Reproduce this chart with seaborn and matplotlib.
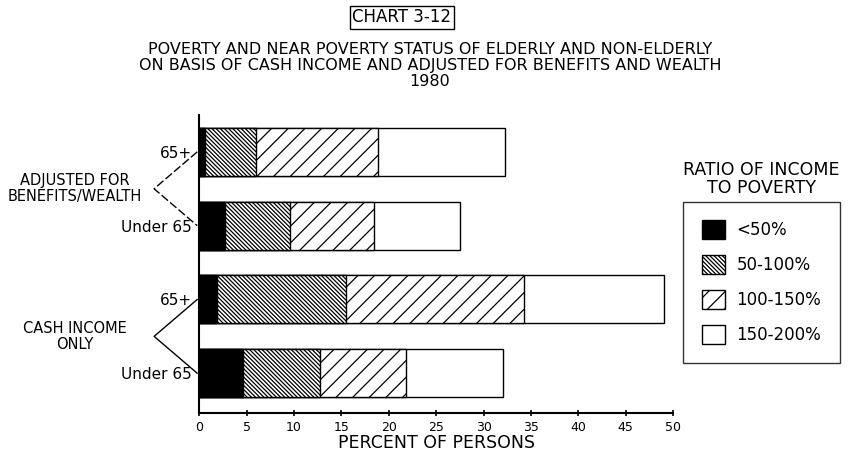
"""Chart 3-12: poverty and near poverty status of elderly and non-elderly, 1980."""

import matplotlib
matplotlib.use('Agg')
import matplotlib.pyplot as plt
import matplotlib.transforms as mtransforms
from matplotlib.lines import Line2D
from matplotlib.patches import Patch
import numpy as np
import pandas as pd
import seaborn as sns

# data (percent of persons)
groups = ['ADJUSTED FOR\nBENEFITS/WEALTH', 'ADJUSTED FOR\nBENEFITS/WEALTH',
          'CASH INCOME\nONLY', 'CASH INCOME\nONLY']
ages = ['65+', 'Under 65', '65+', 'Under 65']
below_50 = [0.6, 2.7, 1.9, 4.6]
pct_50_100 = [5.4, 6.9, 13.6, 8.1]
pct_100_150 = [12.9, 8.8, 18.8, 9.1]
pct_150_200 = [13.4, 9.1, 14.7, 10.3]
series_labels = ['<50%', '50-100%', '100-150%', '150-200%']
x_ticks = list(range(0, 55, 5))

sns.set_style('ticks')
plt.rcParams['font.family'] = ['DejaVu Sans']
plt.rcParams['hatch.linewidth'] = 0.9
for key in ['text.color', 'axes.labelcolor', 'xtick.color', 'ytick.color']:
    plt.rcParams[key] = 'black'

df = pd.DataFrame({
    'bar': [f'{g}|{a}' for g, a in zip(groups, ages)],
    '<50%': below_50,
    '50-100%': pct_50_100,
    '100-150%': pct_100_150,
    '150-200%': pct_150_200,
})
cum = df[series_labels].cumsum(axis=1)

fig = plt.figure(figsize=(8.51, 4.58), dpi=100)
ax = fig.add_axes([0.234, 0.098, 0.557, 0.651])

# stacked bars: draw the longest cumulative first, then overlay shorter ones
styles = {
    '150-200%': dict(color='white', hatch=None),
    '100-150%': dict(color='white', hatch='//'),
    '50-100%': dict(color='white', hatch='\\' * 8),
    '<50%': dict(color='black', hatch=None),
}
for name in series_labels[::-1]:
    st = styles[name]
    sns.barplot(x=cum[name], y=df['bar'], orient='h', ax=ax,
                color=st['color'], hatch=st['hatch'], edgecolor='black',
                linewidth=1.0, width=0.65, saturation=1)

ax.set_xlim(0, 50)
ax.set_ylim(3.54, -0.5)
ax.set_xticks(x_ticks)
ax.set_xticklabels([str(t) for t in x_ticks], fontsize=9)
ax.set_yticks(range(len(ages)))
ax.set_yticklabels(ages, fontsize=11)
ax.tick_params(axis='y', length=0, pad=5)
ax.tick_params(axis='x', direction='inout', length=5, width=1.2)
ax.set_xlabel('PERCENT OF PERSONS', fontsize=12.5, labelpad=0)
ax.set_ylabel('')
sns.despine(ax=ax)
for s in ['left', 'bottom']:
    ax.spines[s].set_linewidth(1.5)
    ax.spines[s].set_color('black')

# group brackets and labels, y in data units
trans = mtransforms.blended_transform_factory(ax.transAxes, ax.transData)
for k, first in enumerate([0, 2]):
    xs = [-0.004, -0.095, -0.004]
    ys = [first, first + 0.5, first + 1]
    ax.add_line(Line2D(xs, ys, transform=trans, color='black', lw=1.0,
                       ls=(0, (6, 2)) if k == 0 else '-', clip_on=False))
    ax.text(-0.262, first + 0.5, groups[first], transform=trans,
            ha='center', va='center', fontsize=10.5, linespacing=1.1)

# titles
fig.text(0.472, 0.962, 'CHART 3-12', ha='center', va='center', fontsize=12,
         bbox=dict(boxstyle='square,pad=0.15', fc='white', ec='black', lw=1))
fig.text(0.505, 0.857,
         'POVERTY AND NEAR POVERTY STATUS OF ELDERLY AND NON-ELDERLY\n'
         'ON BASIS OF CASH INCOME AND ADJUSTED FOR BENEFITS AND WEALTH\n1980',
         ha='center', va='center', fontsize=11.5, linespacing=1.12)

# legend
handles = [Patch(facecolor=styles[n]['color'], edgecolor='black',
                 hatch=styles[n]['hatch'], lw=1.0) for n in series_labels]
fig.text(0.895, 0.61, 'RATIO OF INCOME\nTO POVERTY', ha='center', va='center',
         fontsize=12.5, linespacing=1.0)
leg = fig.legend(handles, series_labels, loc='upper left',
                 bbox_to_anchor=(0.793, 0.578), fontsize=12, frameon=True,
                 fancybox=False, edgecolor='black', handlelength=1.4,
                 handleheight=1.4, labelspacing=0.95, borderpad=1.1,
                 handletextpad=0.7)
leg.get_frame().set_linewidth(1.0)

fig.savefig('out.png', dpi=100, facecolor='white')
